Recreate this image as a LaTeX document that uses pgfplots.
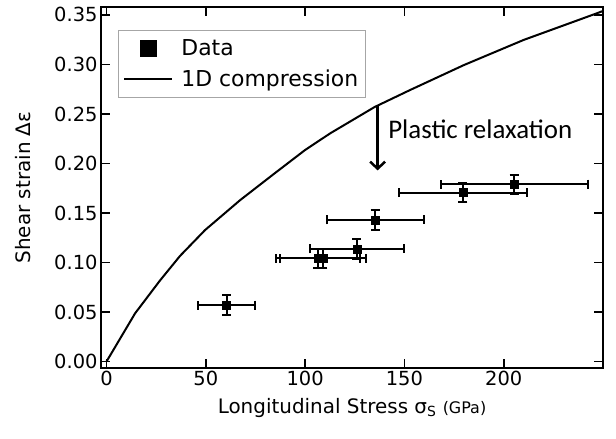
\documentclass[border=0pt]{standalone}
\usepackage{fontspec}
\setmainfont{DejaVu Sans}
\newfontfamily\annfont{Carlito}
\usepackage{pgfplots}
\usepackage{pgfplotstable}
\pgfplotsset{compat=1.18}
\usetikzlibrary{arrows.meta}

% measured points: stress, strain, stress error, strain error
\pgfplotstableread{
x      y      ex    ey
60.5   0.057  14.3  0.0105
106.4  0.104  21.3  0.0095
108.9  0.104  21.6  0.0095
126.0  0.1136 23.6  0.0097
135.3  0.143  24.5  0.0100
179.4  0.1705 32.1  0.0098
205.3  0.179  37.0  0.0097
}\strain

\pgfplotstableread{
x      y
0      0
14.4   0.0487
27     0.082
37     0.1066
49.6   0.1327
67.3   0.163
84     0.189
100    0.2136
112.7  0.2305
135    0.257
152.9  0.2742
180    0.2994
210    0.3247
247    0.3517
250    0.354
}\compress

\begin{document}
\begin{tikzpicture}
\begin{axis}[scale only axis,width=502bp,height=361bp,
  xmin=-2.8,xmax=250,ymin=-0.0066,ymax=0.358,
  xtick={0,50,100,150,200},
  ytick={0,0.05,0.10,0.15,0.20,0.25,0.30,0.35},
  yticklabel style={/pgf/number format/fixed,/pgf/number format/fixed zerofill,/pgf/number format/precision=2},
  /pgf/number format/assume math mode=true,
  tick label style={font=\fontsize{19.5}{22}\selectfont},
  tick align=inside,major tick length=9bp,
  tick style={black,line width=1.6bp},
  axis line style={line width=2.4bp},
  xlabel={Longitudinal Stress σ\textsubscript{S} {\fontsize{16}{19}\selectfont(GPa)}},
  ylabel={Shear strain Δε},
  label style={font=\fontsize{20}{24}\selectfont},
  xlabel style={at={(axis description cs:0.5,-0.111)},anchor=center},
  ylabel style={at={(axis description cs:-0.155,0.5)},anchor=center},
  legend style={at={(axis description cs:0.0339,0.936)},anchor=north west,
    draw=gray!70,line width=1.2bp,font=\fontsize{22}{26}\selectfont,
    inner xsep=5bp,inner ysep=7bp,row sep=9bp,cells={anchor=west}},
]
\addplot[black,only marks,mark=square*,mark size=4bp,
  legend image code/.code={\path[draw=none,fill=none] (0bp,0bp) -- (55bp,0bp);
    \draw[black,mark=square*,mark size=7.5bp] plot coordinates {(24bp,0bp)};},
  error bars/.cd,x dir=both,x explicit,y dir=both,y explicit,
  error bar style={line width=2bp,black},
  error mark options={rotate=90,line width=2bp,mark size=4.5bp,black}]
  table[x=x,y=y,x error=ex,y error=ey]{\strain};
\addlegendentry{Data}
\addplot[black,line width=2bp,no marks,
  legend image code/.code={\path[draw=none,fill=none] (0bp,0bp) -- (55bp,0bp);
    \draw[black,line width=1.6bp] (0bp,0bp) -- (48bp,0bp);}]
  table[x=x,y=y]{\compress};
\addlegendentry{1D compression}
\draw[-{Straight Barb[length=7bp,width=15bp]},line width=2.5bp]
  (axis cs:136.5,0.259) -- (axis cs:136.5,0.193);
\node[anchor=west,inner sep=0pt,font=\annfont\fontsize{27}{31}\selectfont]
  at (axis cs:141.8,0.2348) {Plastic relaxation};
\end{axis}
\pgfresetboundingbox
\path[use as bounding box] ([shift={(-101bp,-71bp)}]current axis.south west)
  rectangle ([shift={(13bp,7bp)}]current axis.north east);
\end{tikzpicture}
\end{document}
